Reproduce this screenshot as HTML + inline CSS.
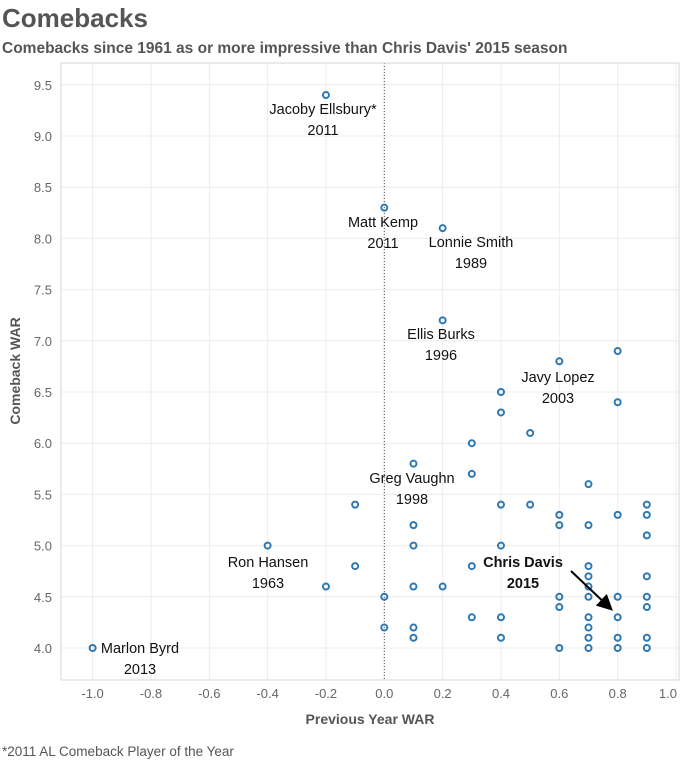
<!DOCTYPE html>
<html><head><meta charset="utf-8"><style>
body{margin:0;background:#fff;width:680px;height:763px;overflow:hidden;font-family:"Liberation Sans",sans-serif}
</style></head><body>
<svg width="680" height="763" style="position:absolute;left:0;top:0">
<text x="2" y="27" font-size="26" font-weight="bold" fill="#555">Comebacks</text>
<text x="2" y="53" font-size="15.5" font-weight="bold" fill="#555">Comebacks since 1961 as or more impressive than Chris Davis' 2015 season</text>
<g id="grid"></g>
<rect x="61" y="63" width="618" height="617" fill="none" stroke="#d4d4d4"/>
<g id="marks"></g>
<g id="labels" font-size="14.5" fill="#111" text-anchor="middle"></g>
<text x="370" y="724" font-size="14" font-weight="bold" fill="#555" text-anchor="middle">Previous Year WAR</text>
<text transform="translate(20,371) rotate(-90)" font-size="14" font-weight="bold" fill="#555" text-anchor="middle">Comeback WAR</text>
<text x="2" y="756" font-size="13.5" fill="#555">*2011 AL Comeback Player of the Year</text>
<defs><marker id="ah" markerWidth="8" markerHeight="8" refX="6" refY="4" orient="auto"><path d="M0,0 L8,4 L0,8 z" fill="#000"/></marker></defs>
<line x1="571" y1="571" x2="610" y2="608" stroke="#000" stroke-width="2" marker-end="url(#ah)"/>
</svg>
<script>
const xTicks=[-1.0,-0.8,-0.6,-0.4,-0.2,0.0,0.2,0.4,0.6,0.8,1.0];
const yTicks=[4.0,4.5,5.0,5.5,6.0,6.5,7.0,7.5,8.0,8.5,9.0,9.5];
const prevWAR=[-1.0,-0.4,-0.2,-0.2,0,0.2,0.2,0.6,0.8,-0.1,-0.1,0,0,0.1,0.1,0.1,0.1,0.1,0.1,0.2,0.3,0.3,0.3,0.3,0.4,0.4,0.4,0.4,0.4,0.4,0.5,0.5,0.6,0.6,0.6,0.6,0.6,0.7,0.7,0.7,0.7,0.7,0.7,0.7,0.7,0.7,0.7,0.8,0.8,0.8,0.8,0.8,0.8,0.9,0.9,0.9,0.9,0.9,0.9,0.9,0.9];
const comebackWAR=[4.0,5.0,4.6,9.4,8.3,8.1,7.2,6.8,6.9,5.4,4.8,4.5,4.2,5.8,5.2,5.0,4.6,4.2,4.1,4.6,6.0,5.7,4.8,4.3,6.5,6.3,5.4,5.0,4.3,4.1,6.1,5.4,5.3,5.2,4.5,4.4,4.0,5.6,5.2,4.8,4.7,4.6,4.5,4.3,4.2,4.1,4.0,6.4,5.3,4.5,4.3,4.1,4.0,5.4,5.3,5.1,4.7,4.5,4.4,4.1,4.0];
const labelNames=["Jacoby Ellsbury*","Matt Kemp","Lonnie Smith","Ellis Burks","Javy Lopez","Greg Vaughn","Ron Hansen","Marlon Byrd","Chris Davis"];
const labelYears=["2011","2011","1989","1996","2003","1998","1963","2013","2015"];
const labelAt=[[323,109],[383,222],[471,242],[441,334],[558,377],[412,478],[268,562],[140,648],[523,562]];
const X=v=>384.3+v*291.7, Y=v=>648-(v-4)*102.4;
const NS="http://www.w3.org/2000/svg";
const g=document.getElementById('grid');
function mk(t,a,p){const e=document.createElementNS(NS,t);for(const k in a)e.setAttribute(k,a[k]);p.appendChild(e);return e;}
xTicks.forEach((v,i)=>{
 const l=mk('line',{x1:X(v),x2:X(v),y1:63,y2:680,stroke:'#ececec'},g);
 
 
 const last=i===xTicks.length-1;
 const t=mk('text',{x:last?677:X(v),y:698,'font-size':13,fill:'#666','text-anchor':last?'end':'middle'},g);
 t.textContent=v.toFixed(1);
 
 
});
yTicks.forEach(v=>{
 const l=mk('line',{x1:61,x2:679,y1:Y(v),y2:Y(v),stroke:'#ececec'},g);
 
 
 const t=mk('text',{x:52,y:Y(v)+5,'font-size':13,fill:'#666','text-anchor':'end'},g);
 t.textContent=v.toFixed(1);
 
 
});
const z=mk('line',{x1:X(0),x2:X(0),y1:63,y2:680,stroke:'#555','stroke-dasharray':'1,2'},g);


const m=document.getElementById('marks');
prevWAR.forEach((v,i)=>{
 const c=mk('circle',{cx:X(v),cy:Y(comebackWAR[i]),r:3,fill:'none',stroke:'#2e78b4','stroke-width':2},m);
 
 
});
const L=document.getElementById('labels');
labelNames.forEach((n,i)=>{
 const [x,y]=labelAt[i];
 const bold=n==="Chris Davis";
 const a=mk('text',{x:x,y:y+5,'font-weight':bold?'bold':'normal'},L);
 a.textContent=n;
 
 
 const b=mk('text',{x:x,y:y+26,'font-weight':bold?'bold':'normal'},L);
 b.textContent=labelYears[i];
 
 
});
</script>
</body></html>
